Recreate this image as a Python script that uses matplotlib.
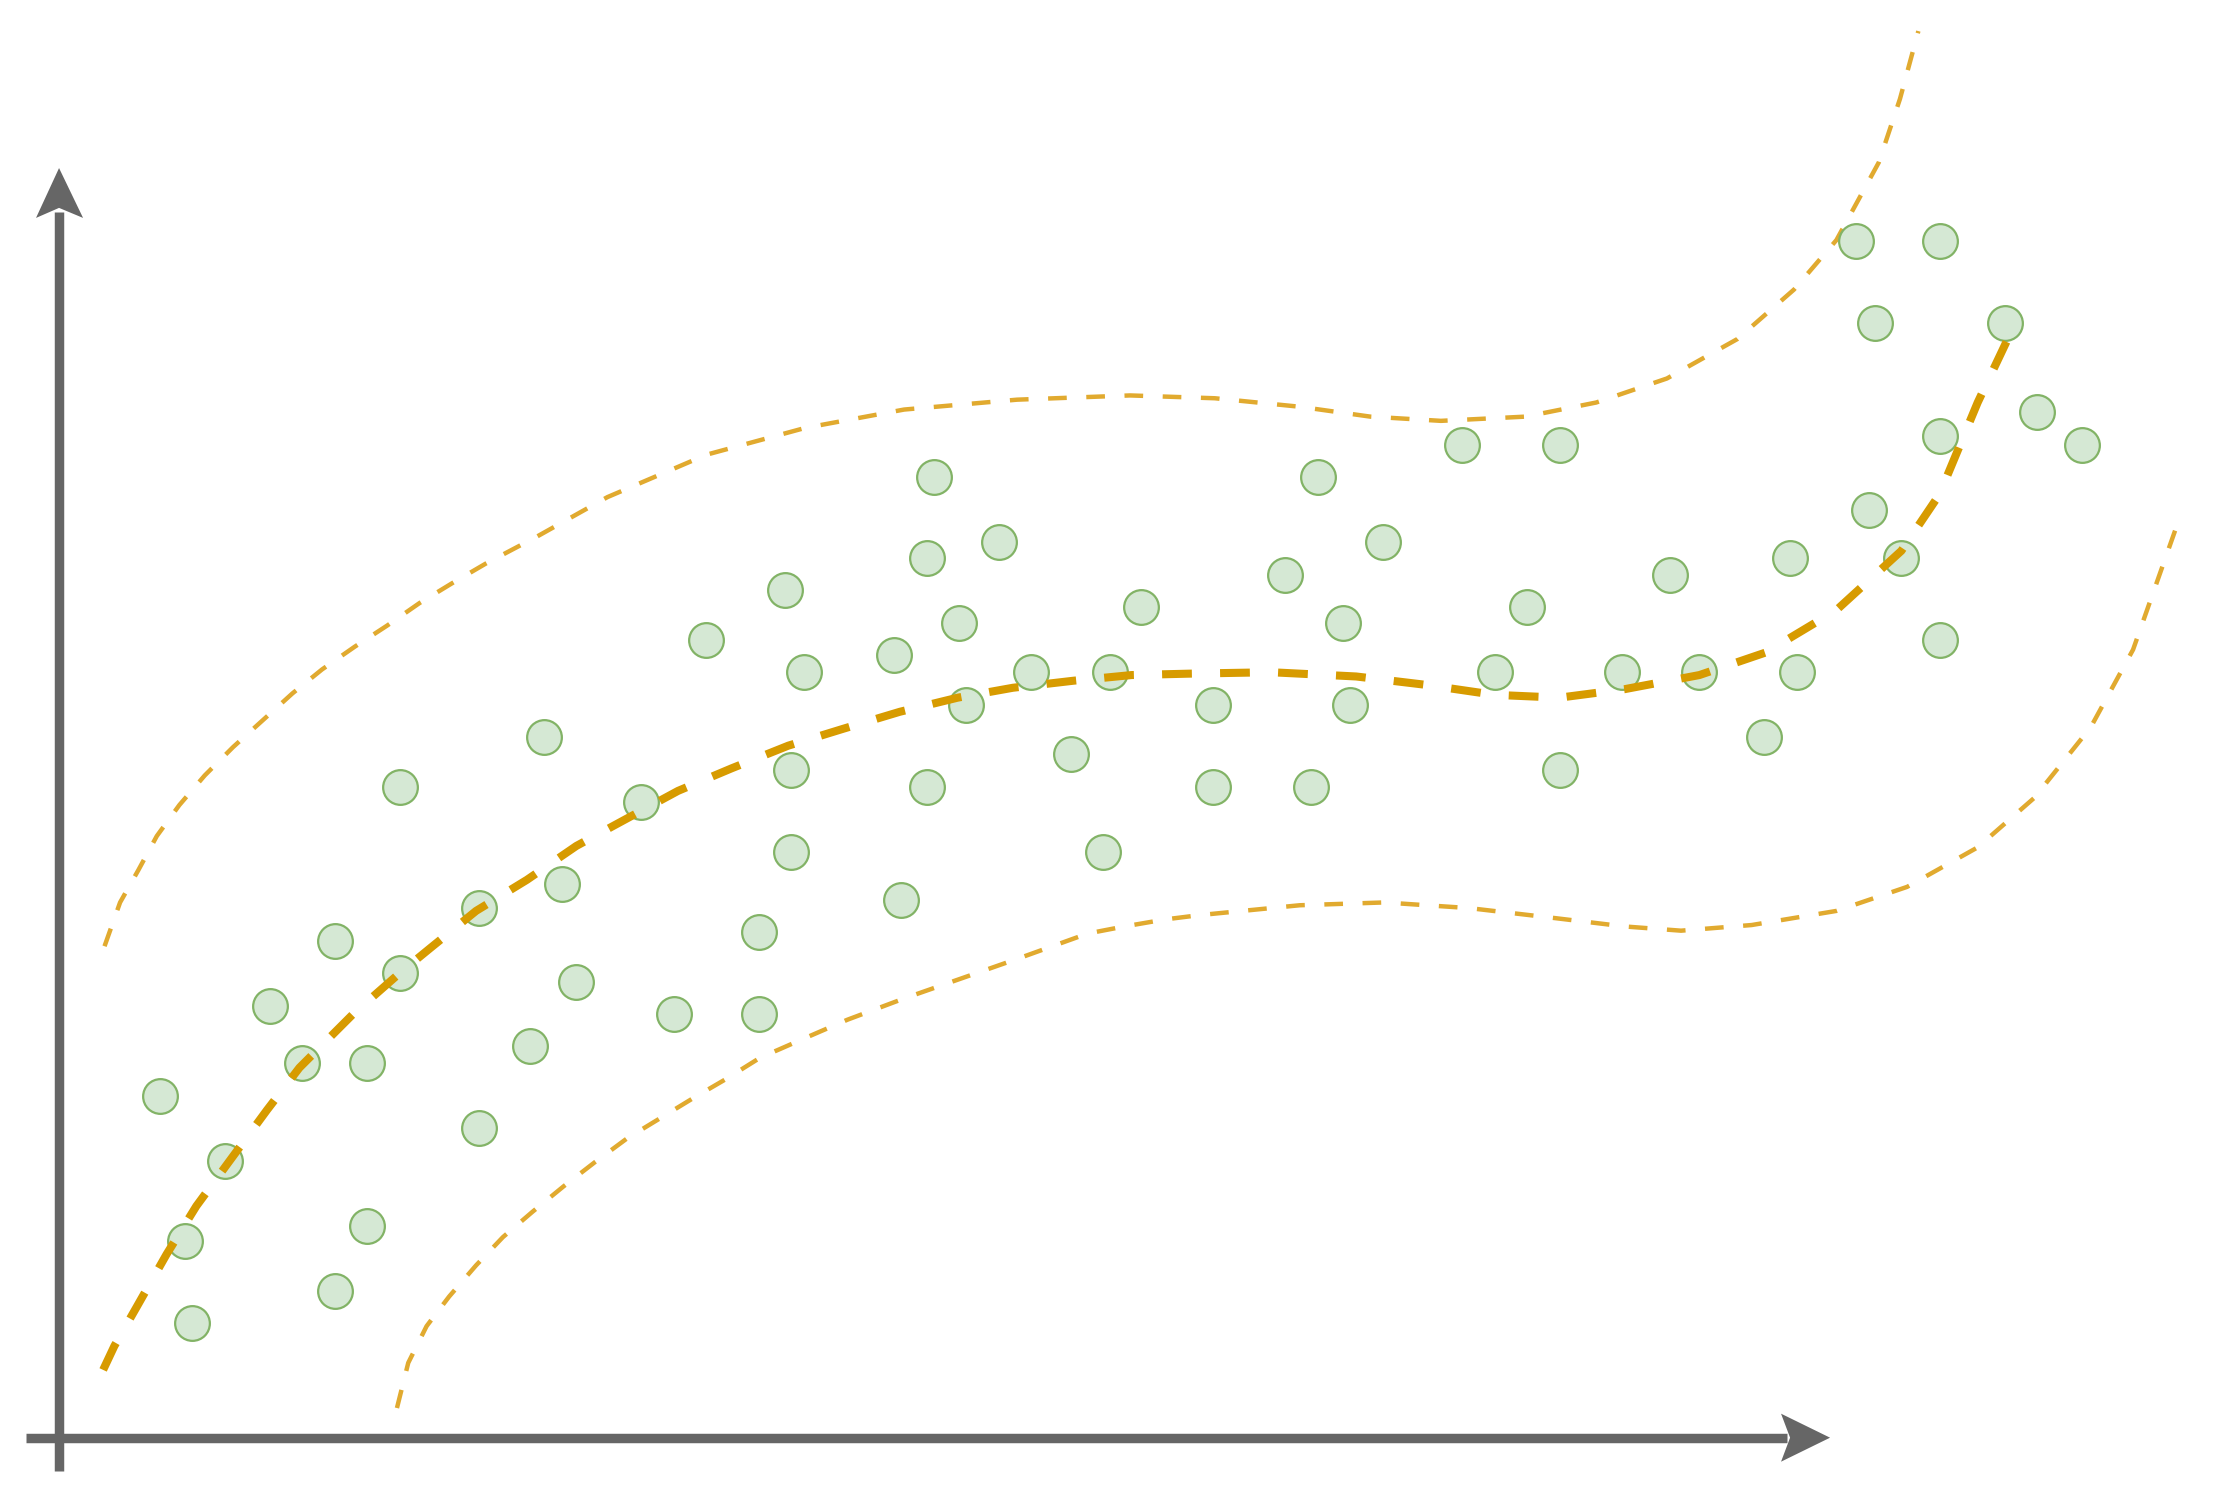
import numpy as np
import matplotlib
matplotlib.use("Agg")
import matplotlib.pyplot as plt

# scatter points (picture coordinates, y grows downward)
pts_x = [113, 131, 136, 159, 191, 214, 237, 237, 260, 260, 283, 283, 339, 339,
         375, 385, 398, 408, 454, 477, 500, 537, 537, 556, 560, 560, 569, 633,
         638, 656, 656, 661, 679, 684, 707, 730, 758, 781, 786, 808, 859, 859,
         910, 928, 933, 951, 956, 979, 1035, 1058, 1081, 1104, 1104, 1148, 1182,
         1203, 1249, 1267, 1272, 1314, 1327, 1323, 1346, 1373, 1373, 1373, 1419,
         1442, 1474]
pts_y = [776, 879, 937, 822, 712, 753, 666, 914, 753, 868, 557, 689, 643, 799,
         741, 522, 626, 695, 568, 718, 453, 660, 718, 418, 545, 603, 476, 464,
         637, 395, 557, 338, 441, 499, 384, 476, 534, 603, 476, 430, 499, 557,
         407, 557, 338, 441, 499, 384, 315, 476, 430, 315, 545, 476, 407,
         476, 522, 395, 476, 171, 229, 361, 395, 171, 309, 453, 229,
         292, 315]

# trend curve (thick dashed)
mid_x = [73, 81, 97, 118, 139, 164, 189, 212, 250, 283, 305, 337, 373, 408,
         443, 480, 518, 558, 597, 637, 678, 717, 760, 801, 842, 900, 960, 1010,
         1058, 1104, 1150, 1203, 1250, 1300, 1346, 1373, 1400, 1427]
mid_y = [970, 953, 925, 888, 854, 820, 786, 756, 718, 689, 671, 645, 623, 599,
         580, 560, 544, 528, 516, 504, 494, 487, 482, 478, 477, 476, 479, 485,
         492, 494, 488, 478, 462, 432, 390, 350, 285, 228]

# upper band
up_x = [74, 85, 98, 111, 127, 145, 165, 186, 207, 228, 251, 274, 297, 320, 344,
        380, 430, 500, 570, 640, 720, 800, 860, 920, 970, 1020, 1080, 1130, 1180,
        1230, 1270, 1300, 1330, 1345, 1358]
up_y = [670, 639, 616, 592, 570, 549, 529, 510, 491, 474, 458, 443, 427, 413, 399,
        380, 352, 322, 303, 290, 283, 280, 282, 288, 295, 298, 295, 285, 268,
        240, 205, 170, 115, 70, 22]

# lower band
lo_x = [281, 289, 302, 318, 337, 356, 377, 399, 421, 444, 467, 490, 514, 538,
        570, 600, 640, 680, 720, 770, 796, 825, 849, 920, 980, 1040, 1100, 1150,
        1190, 1240, 1300, 1350, 1400, 1440, 1480, 1510, 1540]
lo_y = [997, 965, 939, 918, 896, 876, 858, 840, 823, 806, 792, 778, 764, 749,
        735, 722, 707, 693, 679, 661, 656, 651, 648, 641, 639, 643, 650, 656,
        659, 655, 645, 628, 600, 565, 515, 460, 375]

fig = plt.figure(figsize=(22.15, 14.97), dpi=100)
ax = fig.add_axes([0, 0, 1, 1])
ax.set_xlim(0, 1568)
ax.set_ylim(1060, 0)
ax.axis("off")

axis_col = "#666666"
# axes lines
ax.plot([41.8, 41.8], [1041.3, 150], color=axis_col, lw=6.8, solid_capstyle="butt")
ax.plot([18.4, 1265], [1018, 1018], color=axis_col, lw=6.8, solid_capstyle="butt")
# arrow heads
ax.fill([41.8, 58.8, 41.8, 25.5], [119, 154.3, 147.2, 154.3], color=axis_col, lw=0)
ax.fill([1295.5, 1260.8, 1267.2, 1260.8], [1018, 1001, 1018, 1035], color=axis_col, lw=0)

# band curves
ax.plot(up_x, up_y, color="#e1aa2f", lw=3.2, dashes=(4.2, 4.4), zorder=2)
ax.plot(lo_x, lo_y, color="#e1aa2f", lw=3.2, dashes=(4.2, 4.4), zorder=2)

# scatter
ax.plot(pts_x, pts_y, "o", ms=25, mfc="#d5e8d4", mec="#82b366", mew=1.6, zorder=3)

# trend line on top
ax.plot(mid_x, mid_y, color="#d79b00", lw=5.8, dashes=(3.7, 3.5), zorder=4)

fig.savefig("out.png", dpi=100)
